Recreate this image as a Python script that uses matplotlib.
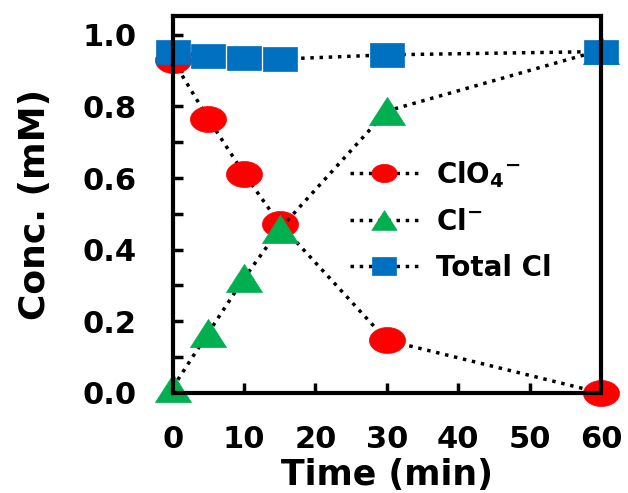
import numpy as np
import matplotlib
matplotlib.use("Agg")
import matplotlib.pyplot as plt
from matplotlib.path import Path
from matplotlib.ticker import MultipleLocator

plt.rcParams['font.family'] = ['DejaVu Sans']
plt.rcParams['font.weight'] = 'bold'
plt.rcParams['mathtext.fontset'] = 'dejavusans'
plt.rcParams['mathtext.default'] = 'bf'

# data
time = [0, 5, 10, 15, 30, 60]
clo4 = [0.93, 0.765, 0.612, 0.472, 0.147, 0.0]
cl = [0.015, 0.168, 0.32, 0.458, 0.787, 0.957]
total_cl = [0.953, 0.940, 0.936, 0.932, 0.944, 0.953]
labels = ['ClO$_4$$^{-}$', 'Cl$^{-}$', 'Total Cl']
colors = ['#FF0000', '#00B050', '#0070C0']


def ellipse_marker(ratio):
    t = np.linspace(0, 2 * np.pi, 60)
    verts = np.column_stack([np.cos(t), ratio * np.sin(t)])
    return Path(verts, closed=True)


def rect_marker(ratio):
    verts = [(-1, -ratio), (1, -ratio), (1, ratio), (-1, ratio), (-1, -ratio)]
    return Path(verts, closed=True)


def tri_marker(ratio):
    verts = [(-1, -ratio), (1, -ratio), (0, ratio), (-1, -ratio)]
    return Path(verts, closed=True)


fig = plt.figure(figsize=(6.28, 4.93), dpi=100)
ax = fig.add_axes([0.275, 0.203, 0.682, 0.765])

series = [clo4, cl, total_cl]
markers = [ellipse_marker(0.72), tri_marker(0.78), rect_marker(0.70)]
sizes = [26, 26, 25]
for vals, lab, col, mk, ms in zip(series, labels, colors, markers, sizes):
    ax.plot(time, vals, linestyle=':', color='black', linewidth=2.5,
            marker=mk, markersize=ms, markerfacecolor=col,
            markeredgecolor=col, markeredgewidth=0.5,
            label=lab, clip_on=False)

ax.set_xlim(0, 60)
ax.set_ylim(0, 1.053)
ax.xaxis.set_major_locator(MultipleLocator(10))
ax.yaxis.set_minor_locator(MultipleLocator(0.1))
ax.set_yticks([0, 0.2, 0.4, 0.6, 0.8, 1.0])
ax.set_yticklabels(['0.0', '0.2', '0.4', '0.6', '0.8', '1.0'])

ax.tick_params(axis='both', which='major', direction='in', length=7,
               width=2.5, labelsize=22)
ax.tick_params(axis='y', which='minor', direction='in', length=7, width=2.5)
ax.tick_params(axis='y', pad=26)
ax.tick_params(axis='x', pad=23)
for sp in ax.spines.values():
    sp.set_linewidth(3)

ax.set_xlabel('Time (min)', fontsize=25, fontweight='bold', labelpad=3)
ax.set_ylabel('Conc. (mM)', fontsize=26, fontweight='bold', labelpad=22)

leg = ax.legend(loc='center left', bbox_to_anchor=(0.355, 0.457),
                frameon=False, fontsize=20, markerscale=0.7,
                handlelength=2.5, labelspacing=0.65, handletextpad=0.6)

fig.savefig('out.png', dpi=100)
